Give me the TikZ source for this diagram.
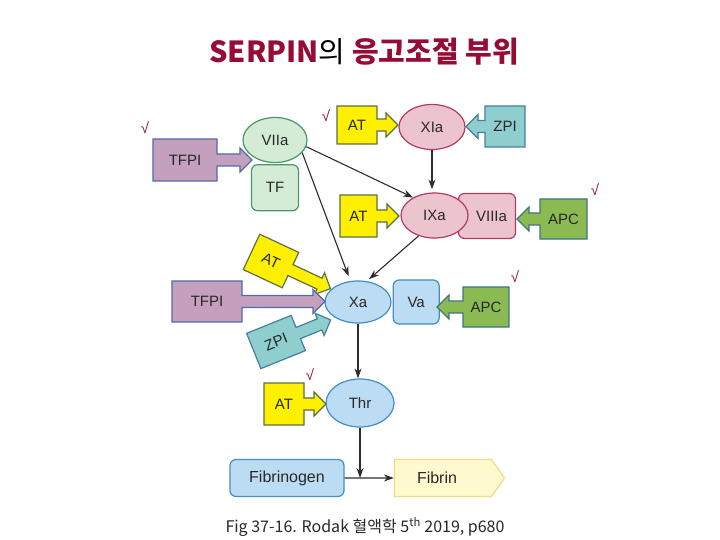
\documentclass[tikz,border=0pt]{standalone}
\usepackage{fontspec}
\setmainfont{Liberation Sans}
\newfontfamily\kr{Noto Sans CJK KR}
\usetikzlibrary{positioning,arrows.meta,shapes.geometric,shapes.symbols}
\definecolor{TitleRed}{RGB}{150,12,52}
\definecolor{GreenFill}{RGB}{212,236,214}
\definecolor{GreenLine}{RGB}{76,150,108}
\definecolor{PinkFill}{RGB}{236,196,206}
\definecolor{PinkLine}{RGB}{178,58,104}
\definecolor{BlueFill}{RGB}{188,220,244}
\definecolor{BlueLine}{RGB}{66,142,200}
\definecolor{PurpleFill}{RGB}{196,160,190}
\definecolor{PurpleLine}{RGB}{78,108,168}
\definecolor{YellowFill}{RGB}{255,240,0}
\definecolor{YellowLine}{RGB}{92,112,70}
\definecolor{TealFill}{RGB}{142,206,206}
\definecolor{TealLine}{RGB}{68,128,158}
\definecolor{APCFill}{RGB}{140,186,82}
\definecolor{APCLine}{RGB}{62,118,128}
\definecolor{FibFill}{RGB}{255,249,206}
\definecolor{FibLine}{RGB}{238,222,128}
\definecolor{LineGray}{RGB}{45,45,45}
\definecolor{TextGray}{RGB}{40,40,40}
% box with a fat arrow: style, name, centre, angle, direction, width, height, reach, text
\newcommand\blockarrow[9]{%
  \begin{scope}[shift={#3},rotate=#4]
    \begin{scope}[xscale=#5]
      \filldraw[blk,#1] (-#6/2,-#7/2) -- (#6/2,-#7/2) -- (#6/2,-6)
        -- (#6/2+#8-12,-6) -- (#6/2+#8-12,-12) -- (#6/2+#8,0)
        -- (#6/2+#8-12,12) -- (#6/2+#8-12,6) -- (#6/2,6)
        -- (#6/2,#7/2) -- (-#6/2,#7/2) -- cycle;
    \end{scope}
    \node[rotate=#4] (#2) at (0,0) {#9};
  \end{scope}}

\begin{document}
\begin{tikzpicture}[x=1pt,y=-1pt,
      >={Stealth[length=10pt,width=7pt]},
      every node/.style={font=\fontsize{15}{17}\selectfont,text=TextGray},
      oval/.style={ellipse,line width=1.2pt,inner sep=0pt,minimum width=65pt,minimum height=45pt},
      rbox/.style={rounded corners=6pt,line width=1.2pt,inner sep=0pt},
      blk/.style={line width=1.2pt,line join=miter},
      atst/.style={fill=YellowFill,draw=YellowLine},
      zpist/.style={fill=TealFill,draw=TealLine},
      tfpist/.style={fill=PurpleFill,draw=PurpleLine},
      apcst/.style={fill=APCFill,draw=APCLine},
      conn/.style={->,line width=1.1pt,draw=LineGray},
      chk/.style={text=TitleRed,font=\fontsize{15}{15}\selectfont}]
    \useasboundingbox[fill=white] (0,0) rectangle (720,540);
    \node (title) at (364,52) {\kr\fontsize{29}{32}\selectfont\textcolor{TitleRed}{\bfseries SERPIN}\textcolor{black}{의} \textcolor{TitleRed}{\bfseries 응고조절 부위}};
    % factors
    \node[oval,fill=GreenFill,draw=GreenLine,minimum width=64pt] (VIIa) at (275,140) {VIIa};
    \node[rbox,fill=GreenFill,draw=GreenLine,minimum width=47pt,minimum height=46pt,below=1pt of VIIa] (TF) {TF};
    \node[oval,fill=PinkFill,draw=PinkLine,minimum width=66pt] (XIa) at (432,127) {XIa};
    \node[rbox,fill=PinkFill,draw=PinkLine,minimum width=57pt,minimum height=45pt] (VIIIa) at (487,216) {\hspace*{9pt}VIIIa};
    \node[oval,fill=PinkFill,draw=PinkLine,minimum width=67pt] (IXa) at (434.5,215.5) {IXa};
    \node[oval,fill=BlueFill,draw=BlueLine,minimum width=66pt,minimum height=42pt] (Xa) at (358,302) {Xa};
    \node[rbox,fill=BlueFill,draw=BlueLine,minimum width=46pt,minimum height=44pt,right=1pt of Xa] (Va) {Va};
    \node[oval,fill=BlueFill,draw=BlueLine,minimum width=68pt,minimum height=48pt] (Thr) at (360,403) {Thr};
    \node[rbox,fill=BlueFill,draw=BlueLine,minimum width=114pt,minimum height=37pt,font=\fontsize{16}{18}\selectfont] (Fibrinogen) at (287,478) {Fibrinogen};
    \node[signal,signal to=east,signal pointer angle=110,fill=FibFill,draw=FibLine,line width=1.2pt,
          minimum width=110pt,minimum height=37pt,inner sep=0pt,font=\fontsize{16}{18}\selectfont] (Fibrin) at (443,478) {Fibrin\hspace*{12pt}};
    % inhibitors
    \blockarrow{tfpist}{tfpi1}{(185,160)}{0}{1}{64}{42}{35}{TFPI}
    \blockarrow{atst}{at1}{(357,125)}{0}{1}{40}{38}{21}{AT}
    \blockarrow{zpist}{zpi1}{(505,126.5)}{0}{-1}{40}{41}{19}{ZPI}
    \blockarrow{atst}{at2}{(358.5,216)}{0}{1}{37}{42}{22}{AT}
    \blockarrow{apcst}{apc1}{(563.5,219)}{0}{-1}{47}{40}{23}{APC}
    \blockarrow{atst}{at3}{(271,261)}{-25}{1}{43}{39}{44}{AT}
    \blockarrow{tfpist}{tfpi2}{(207,301.5)}{0}{1}{70}{41}{83}{TFPI}
    \blockarrow{zpist}{zpi2}{(276,342)}{22}{1}{48}{38}{35}{ZPI}
    \blockarrow{apcst}{apc2}{(486,307)}{0}{-1}{46}{40}{26}{APC}
    \blockarrow{atst}{at4}{(284,404)}{0}{1}{40}{42}{22}{AT}
    % activation
    \draw[conn] (VIIa.-12) -- (IXa.140);
    \draw[conn,shorten >=5pt] (VIIa.-25) -- (Xa.110);
    \draw[conn,shorten >=3pt] (IXa.232) -- (Xa.67);
    \draw[conn,shorten >=3pt] (XIa.south) -- (XIa.south |- IXa.north);
    \draw[conn] (Xa.south) -- (Xa.south |- Thr.north);
    \coordinate (join) at (Thr.south |- Fibrinogen.east);
    \draw[conn] (Thr.south) -- (join);
    \draw[conn] (Fibrinogen) -- (Fibrin);
    % check marks
    \foreach \n/\p in {c1/{(145,128)},c2/{(326,116)},c3/{(595,190)},c4/{(515,277)},c5/{(310,375)}}
      \node[chk] (\n) at \p {√};
    \node (caption) at (365,527) {\kr\fontsize{16}{18}\selectfont Fig 37-16. Rodak 혈액학 5\textsuperscript{th} 2019, p680};
  \end{tikzpicture}
\end{document}
